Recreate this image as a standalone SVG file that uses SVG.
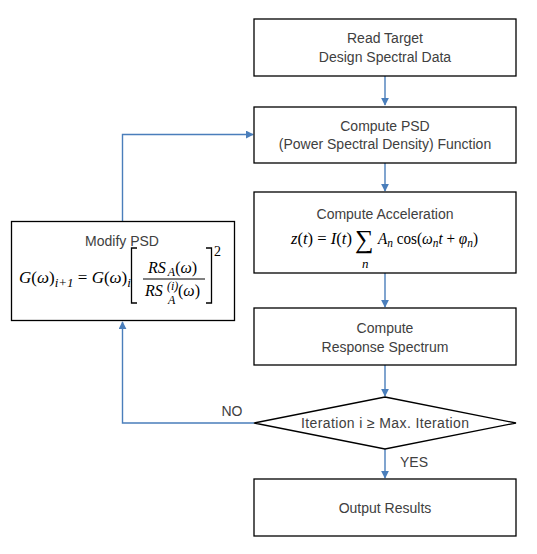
<svg xmlns="http://www.w3.org/2000/svg" width="537" height="554" viewBox="0 0 537 554">
<defs>
<style>
.box{fill:#fff;stroke:#000;stroke-width:1.3}
.lbl{font-family:"Liberation Sans",Arial,sans-serif;font-size:14px;fill:#404040;text-anchor:middle}
.m{font-family:"Liberation Serif","Times New Roman",serif;fill:#000}
.i{font-style:italic}
.conn{fill:none;stroke:#4a7ebb;stroke-width:1.4}
</style>
<marker id="ah" viewBox="0 0 10 10" refX="9" refY="5" markerWidth="8" markerHeight="8" markerUnits="userSpaceOnUse" orient="auto">
<path d="M0,0 L10,5 L0,10 z" fill="#4a7ebb"/>
</marker>
</defs>
<rect width="537" height="554" fill="#fff"/>
<g id="connectors">
<path class="conn" d="M385,76 V105" marker-end="url(#ah)"/>
<path class="conn" d="M385,163 V191" marker-end="url(#ah)"/>
<path class="conn" d="M385,273 V307" marker-end="url(#ah)"/>
<path class="conn" d="M385,365 V396" marker-end="url(#ah)"/>
<path class="conn" d="M385,449 V478" marker-end="url(#ah)"/>
<path class="conn" d="M254,423 H122.5 V322" marker-end="url(#ah)"/>
<path class="conn" d="M122.5,221 V134.5 H253" marker-end="url(#ah)"/>
<text class="lbl" x="232" y="416">NO</text>
<text class="lbl" x="414" y="467">YES</text>
</g>
<g id="read">
<rect class="box" x="254" y="19" width="262" height="57"/>
<text class="lbl" x="385" y="43">Read Target</text>
<text class="lbl" x="385" y="62">Design Spectral Data</text>
</g>
<g id="psd">
<rect class="box" x="254" y="107" width="262" height="56"/>
<text class="lbl" x="385" y="131">Compute PSD</text>
<text class="lbl" x="385" y="149">(Power Spectral Density) Function</text>
</g>
<g id="accel">
<rect class="box" x="254" y="192" width="262" height="81"/>
<text class="lbl" x="385" y="219">Compute Acceleration</text>
<text class="m" x="291" y="244" font-size="16" textLength="61" lengthAdjust="spacingAndGlyphs"><tspan class="i">z</tspan>(<tspan class="i">t</tspan>) = <tspan class="i">I</tspan>(<tspan class="i">t</tspan>)</text>
<text class="m" x="355" y="248" font-size="26">∑</text>
<text class="m i" x="362" y="268" font-size="13">n</text>
<text class="m" x="378" y="244" font-size="16" textLength="100" lengthAdjust="spacingAndGlyphs"><tspan class="i">A</tspan><tspan class="i" font-size="12" dy="3">n</tspan><tspan dy="-3"> cos(</tspan><tspan class="i">ω</tspan><tspan class="i" font-size="12" dy="3">n</tspan><tspan class="i" dy="-3">t</tspan> + <tspan class="i">φ</tspan><tspan class="i" font-size="12" dy="3">n</tspan><tspan dy="-3">)</tspan></text>
</g>
<g id="response">
<rect class="box" x="254" y="308" width="262" height="57"/>
<text class="lbl" x="385" y="333">Compute</text>
<text class="lbl" x="385" y="352">Response Spectrum</text>
</g>
<g id="decision">
<polygon class="box" points="385,397 516,423 385,449 254,423"/>
<text class="lbl" x="385" y="428" textLength="168" lengthAdjust="spacing">Iteration i ≥ Max. Iteration</text>
</g>
<g id="output">
<rect class="box" x="254" y="479" width="262" height="57"/>
<text class="lbl" x="385" y="513">Output Results</text>
</g>
<g id="modify">
<rect class="box" x="11.5" y="221.5" width="223" height="99"/>
<text class="lbl" x="122" y="246">Modify PSD</text>
<text class="m" x="19" y="283" font-size="17"><tspan class="i">G</tspan>(<tspan class="i">ω</tspan>)<tspan class="i" font-size="13" dy="4">i+1</tspan><tspan dy="-4"> = </tspan><tspan class="i">G</tspan>(<tspan class="i">ω</tspan>)<tspan class="i" font-size="13" dy="4">i</tspan></text>
<path d="M137,248 H131.5 V303 H137 M206,248 H211.5 V303 H206" fill="none" stroke="#000" stroke-width="1.3"/>
<text class="m" x="214" y="256" font-size="14">2</text>
<text class="m" x="148" y="273" font-size="16"><tspan class="i">RS</tspan><tspan class="i" font-size="12" dx="2" dy="3">A</tspan><tspan dy="-3">(</tspan><tspan class="i">ω</tspan>)</text>
<line x1="143" y1="279" x2="205" y2="279" stroke="#000" stroke-width="1"/>
<text class="m i" x="145" y="296" font-size="16">RS</text>
<text class="m i" x="167" y="290" font-size="12">(i)</text>
<text class="m i" x="168" y="304" font-size="12">A</text>
<text class="m" x="178" y="296" font-size="16">(<tspan class="i">ω</tspan>)</text>
</g>
</svg>
